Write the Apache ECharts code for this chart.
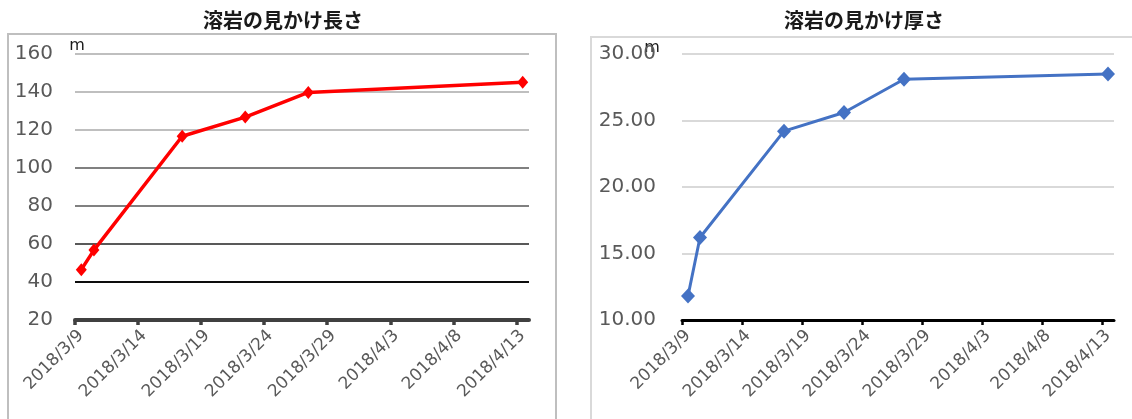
<!DOCTYPE html>
<html>
<head>
<meta charset="utf-8">
<script src="https://cdn.jsdelivr.net/npm/echarts@6/dist/echarts.min.js"></script>
<style>
html,body{margin:0;padding:0;background:#fff;}
#c{width:1132px;height:419px;}
</style>
</head>
<body>
<div id="c"></div>
<script>
// ---- data ----
const baseDate = '2018-03-09 00:00';
const obsDates = ['2018-03-09 12:00','2018-03-10 12:00','2018-03-17 12:00','2018-03-22 12:00','2018-03-27 12:00','2018-04-13 12:00'];
const lengthValues = [46.5, 56.8, 116.7, 126.8, 139.8, 145.1];
const thicknessValues = [11.8, 16.2, 24.2, 25.6, 28.1, 28.5];
const xTickLabels = ['2018/3/9','2018/3/14','2018/3/19','2018/3/24','2018/3/29','2018/4/3','2018/4/8','2018/4/13'];
const titles = ['溶岩の見かけ長さ','溶岩の見かけ厚さ'];
const unitLabel = 'm';

function toUTC(s){
  const [d,t] = s.split(' ');
  const [y,m,dd] = d.split('-').map(Number);
  const [hh,mm] = t.split(':').map(Number);
  return Date.UTC(y,m-1,dd,hh,mm);
}
const base = toUTC(baseDate);
const dayOffsets = obsDates.map(s => (toUTC(s)-base)/86400000);
const tickDays = xTickLabels.map((_,i)=>i*5);

const labelFont = 'DejaVu Sans';

function xAxisCfg(gi, color, w){
  return {
    type:'value', gridIndex:gi, min:0, max:36, interval:5,
    axisLine:{show:true, onZero:false, lineStyle:{color:color, width:w}},
    axisTick:{show:true, customValues:tickDays, length:5, lineStyle:{color:color, width:w-0.5}},
    axisLabel:{customValues:tickDays, formatter:v=>xTickLabels[Math.round(v/5)] || '',
      rotate:45, verticalAlign:'top', fontSize:17, color:'#595959', margin:7, fontFamily:labelFont},
    splitLine:{show:false}
  };
}

const option = {
  animation:false,
  backgroundColor:'#fff',
  title:[
    {text:titles[0], left:283, top:10, textAlign:'center', padding:0,
     textStyle:{fontSize:20, fontWeight:'bold', color:'#1a1a1a', fontFamily:'Noto Sans CJK JP'}},
    {text:titles[1], left:864, top:10, textAlign:'center', padding:0,
     textStyle:{fontSize:20, fontWeight:'bold', color:'#1a1a1a', fontFamily:'Noto Sans CJK JP'}}
  ],
  graphic:[
    {type:'rect', shape:{x:8,y:34,width:548,height:420}, style:{fill:'none', stroke:'#bfbfbf', lineWidth:2}, z:-1},
    {type:'rect', shape:{x:591,y:37,width:600,height:420}, style:{fill:'none', stroke:'#d9d9d9', lineWidth:2}, z:-1}
  ],
  grid:[
    {left:75, top:54, width:454, height:266, outerBoundsMode:'none', containLabel:false},
    {left:682, top:54, width:432, height:266, outerBoundsMode:'none', containLabel:false}
  ],
  xAxis:[ xAxisCfg(0,'#404040',4), xAxisCfg(1,'#000000',3) ],
  yAxis:[
    {type:'value', gridIndex:0, min:20, max:160, interval:20,
     name:unitLabel, nameLocation:'end', nameGap:0, nameMoveOverlap:false,
     nameTextStyle:{fontSize:16, color:'#1a1a1a', fontFamily:'DejaVu Sans', padding:[0,0,0,4]},
     axisLine:{show:false}, axisTick:{show:false},
     axisLabel:{fontSize:20, color:'#595959', margin:22, fontFamily:labelFont},
     splitLine:{show:true, lineStyle:{width:2, color:['#404040','#0d0d0d','#595959','#808080','#808080','#bfbfbf','#bfbfbf','#bfbfbf']}}},
    {type:'value', gridIndex:1, min:10, max:30, interval:5,
     name:unitLabel, nameLocation:'end', nameGap:-2, nameMoveOverlap:false,
     nameTextStyle:{fontSize:16, color:'#1a1a1a', fontFamily:'DejaVu Sans', padding:[0,60,0,0]},
     axisLine:{show:false}, axisTick:{show:false},
     axisLabel:{fontSize:20, color:'#595959', margin:26, fontFamily:labelFont, formatter:v=>v.toFixed(2)},
     splitLine:{show:true, lineStyle:{width:2, color:'#d9d9d9'}}}
  ],
  series:[
    {type:'line', xAxisIndex:0, yAxisIndex:0,
     data:dayOffsets.map((d,i)=>[d,lengthValues[i]]),
     symbol:'diamond', symbolSize:[11,13], showAllSymbol:true,
     lineStyle:{color:'#ff0000', width:3.5}, itemStyle:{color:'#ff0000'}},
    {type:'line', xAxisIndex:1, yAxisIndex:1,
     data:dayOffsets.map((d,i)=>[d,thicknessValues[i]]),
     symbol:'diamond', symbolSize:[14,15], showAllSymbol:true,
     lineStyle:{color:'#4472c4', width:3}, itemStyle:{color:'#4472c4'}}
  ]
};
const chart = echarts.init(document.getElementById('c'), null, {renderer:'canvas'});
chart.setOption(option);
</script>
</body>
</html>
